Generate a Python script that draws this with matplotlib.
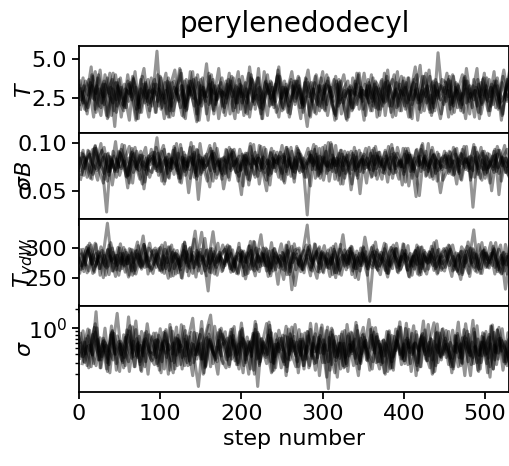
import numpy as np
import matplotlib
matplotlib.use("Agg")
import matplotlib.pyplot as plt

title = "perylenedodecyl"
labels = [r"$T$", r"$\sigma B$", r"$T_{vdW}$", r"$\sigma$"]
thin = 5  # values read every 5 steps; walker k starts at step k % 5

# T, in tenths
t_chains = [
    [26, 38, 15, 31, 42, 20, 34, 12, 29, 40, 23, 17, 36, 27, 11, 33, 44, 21,
     30, 16, 39, 25, 13, 35, 28, 43, 19, 32, 24, 10, 37, 26, 41, 18, 29, 35,
     14, 27, 38, 22, 33, 16, 45, 25, 31, 12, 36, 20, 28, 40, 17, 34, 23, 30,
     39, 19, 26, 13, 35, 29, 42, 21, 32, 15, 37, 24, 11, 30, 27, 41, 18, 33,
     25, 36, 14, 28, 43, 20, 31, 17, 38, 26, 12, 34, 22, 39, 29, 16, 35, 24,
     32, 13, 40, 27, 19, 36, 23, 30, 44, 15, 28, 37, 21, 33, 11, 29, 38, 25],
    [21, 33, 27, 40, 16, 29, 36, 13, 31, 24, 38, 19, 34, 26, 12, 37, 22, 30,
     28, 55, 18, 35, 25, 14, 32, 41, 20, 27, 37, 11, 30, 23, 39, 17, 33, 26,
     36, 15, 29, 42, 22, 31, 18, 27, 38, 12, 34, 25, 30, 45, 19, 28, 35, 21,
     33, 24, 7, 30, 39, 17, 27, 36, 22, 14, 31, 40, 25, 19, 34, 28, 11, 37,
     23, 32, 18, 41, 26, 13, 35, 29, 20, 38, 24, 31, 16, 27, 43, 22, 30, 15,
     35, 26, 39, 19, 28, 12, 33, 24, 37, 21, 30, 17, 36, 27, 14, 32, 41, 23],
    [31, 18, 26, 39, 23, 14, 34, 28, 41, 20, 32, 25, 11, 37, 29, 16, 35, 22,
     27, 40, 19, 30, 13, 36, 24, 33, 17, 42, 26, 21, 38, 15, 31, 28, 44, 20,
     34, 25, 12, 37, 29, 22, 40, 18, 32, 27, 14, 35, 23, 39, 30, 16, 26, 36,
     19, 31, 43, 24, 15, 33, 28, 38, 21, 12, 36, 26, 30, 18, 41, 25, 34, 22,
     38, 13, 29, 35, 20, 27, 42, 17, 32, 24, 37, 11, 30, 26, 39, 19, 54, 28,
     23, 36, 16, 31, 40, 22, 28, 13, 34, 27, 38, 20, 33, 25, 15, 37, 29, 35],
    [24, 36, 30, 13, 38, 22, 28, 41, 17, 33, 26, 19, 35, 29, 12, 39, 25, 31,
     37, 20, 27, 15, 34, 43, 23, 30, 18, 36, 28, 11, 32, 26, 40, 21, 29, 16,
     30, 39, 22, 34, 14, 27, 37, 25, 19, 42, 28, 32, 16, 24, 36, 20, 33, 27,
     12, 35, 26, 31, 21, 38, 17, 29, 23, 34, 15, 27, 32, 19, 25, 30, 14, 33,
     26, 18, 37, 23, 31, 40, 20, 28, 35, 13, 30, 24, 39, 22, 27, 17, 34, 29,
     41, 21, 32, 27, 16, 36, 25, 30, 12, 38, 23, 34, 19, 29, 43, 26, 31, 18],
    [29, 17, 35, 24, 40, 27, 14, 32, 7, 37, 21, 30, 26, 42, 19, 34, 23, 38,
     16, 31, 25, 36, 20, 28, 44, 13, 33, 27, 38, 22, 29, 11, 35, 24, 31, 19,
     37, 26, 33, 18, 30, 41, 23, 27, 15, 35, 29, 21, 39, 25, 32, 13, 28, 36,
     22, 38, 14, 31, 26, 19, 34, 29, 37, 20, 25, 12, 33, 28, 40, 23, 30, 17,
     34, 27, 20, 39, 16, 30, 25, 36, 22, 31, 45, 18, 28, 33, 14, 37, 26, 21,
     30, 15, 35, 24, 38, 28, 19, 32, 26, 41, 17, 29, 36, 22, 27, 34, 13, 31],
    [33, 22, 28, 45, 18, 31, 26, 38, 14, 35, 29, 20, 40, 24, 32, 16, 27, 37,
     20, 34, 29, 12, 38, 25, 31, 19, 36, 27, 42, 15, 33, 28, 21, 37, 24, 30,
     27, 41, 17, 32, 26, 35, 13, 30, 38, 22, 28, 34, 19, 43, 25, 31, 15, 36,
     29, 21, 37, 26, 16, 33, 24, 40, 28, 11, 35, 22, 31, 27, 36, 18, 30, 25,
     40, 19, 31, 23, 36, 28, 14, 34, 27, 38, 21, 32, 46, 17, 29, 35, 24, 12,
     26, 37, 22, 30, 17, 39, 28, 33, 20, 35, 25, 14, 31, 38, 23, 29, 42, 19],
    [36, 24, 19, 33, 28, 43, 21, 30, 37, 16, 27, 34, 23, 39, 18, 31, 26, 13,
     31, 27, 38, 22, 35, 17, 29, 33, 12, 36, 25, 40, 20, 28, 34, 15, 30, 38,
     22, 33, 28, 16, 39, 26, 31, 21, 44, 18, 29, 36, 24, 13, 32, 27, 37, 23,
     38, 16, 30, 35, 25, 20, 33, 14, 28, 39, 22, 31, 36, 17, 29, 26, 41, 24,
     17, 35, 28, 22, 32, 37, 19, 30, 26, 13, 34, 40, 23, 31, 18, 36, 27, 33,
     28, 39, 20, 34, 25, 31, 15, 37, 29, 22, 33, 26, 42, 18, 35, 24, 30, 16],
    [18, 30, 37, 25, 33, 19, 40, 27, 22, 35, 13, 31, 28, 38, 21, 26, 34, 17,
     34, 23, 29, 41, 17, 32, 26, 14, 37, 30, 20, 35, 27, 47, 22, 33, 12, 29,
     25, 36, 19, 31, 27, 15, 38, 33, 24, 29, 40, 21, 34, 26, 18, 31, 42, 25,
     31, 20, 35, 23, 40, 28, 18, 33, 26, 36, 24, 30, 13, 38, 21, 32, 27, 35,
     20, 29, 36, 14, 33, 25, 31, 39, 18, 27, 35, 22, 30, 41, 16, 33, 25, 37,
     35, 18, 28, 33, 21, 44, 26, 30, 16, 37, 24, 32, 28, 19, 39, 23, 34, 27],
]

# sigma B, in thousandths
b_chains = [
    [78, 92, 64, 83, 97, 70, 58, 88, 74, 101, 66, 81, 53, 90, 76, 62, 86, 72,
     69, 95, 80, 57, 88, 73, 99, 63, 84, 48, 79, 93, 67, 86, 75, 60, 94, 71,
     82, 61, 90, 74, 46, 87, 78, 98, 65, 83, 72, 56, 91, 77, 68, 95, 80, 63,
     89, 70, 79, 55, 93, 66, 85, 76, 100, 62, 81, 71, 87, 51, 78, 92, 69, 84,
     64, 96, 75, 83, 59, 88, 73, 80, 67, 94, 77, 44, 86, 72, 99, 65, 82, 76,
     91, 68, 81, 57, 89, 74, 85, 33, 78, 95, 63, 80, 72, 88, 60, 84, 76, 93],
    [71, 85, 77, 62, 94, 80, 68, 89, 56, 83, 75, 97, 66, 81, 73, 91, 59, 86,
     78, 105, 70, 84, 63, 92, 76, 58, 87, 72, 96, 65, 82, 74, 54, 89, 79, 68,
     93, 73, 81, 60, 88, 77, 99, 67, 84, 71, 50, 90, 78, 64, 86, 75, 95, 69,
     83, 76, 25, 87, 72, 94, 61, 80, 74, 97, 66, 85, 79, 57, 91, 70, 82, 76,
     65, 89, 78, 72, 96, 63, 84, 75, 88, 55, 81, 93, 70, 86, 77, 62, 90, 74,
     87, 70, 95, 79, 61, 84, 73, 98, 67, 82, 76, 58, 91, 74, 85, 69, 80, 88],
    [84, 73, 91, 67, 80, 99, 62, 86, 76, 70, 93, 78, 58, 88, 72, 83, 95, 64,
     77, 89, 60, 82, 74, 96, 68, 85, 79, 63, 90, 41, 84, 76, 94, 70, 81, 66,
     92, 71, 78, 86, 55, 89, 75, 64, 97, 73, 82, 68, 87, 79, 60, 93, 74, 85,
     69, 81, 94, 72, 88, 63, 79, 100, 70, 84, 57, 91, 76, 83, 66, 89, 73, 78,
     86, 62, 77, 92, 74, 68, 95, 80, 59, 87, 72, 83, 97, 65, 79, 88, 71, 76,
     74, 90, 67, 83, 78, 96, 61, 85, 73, 89, 69, 80, 93, 46, 84, 75, 87, 70],
    [67, 82, 88, 75, 61, 92, 79, 70, 86, 74, 98, 65, 80, 89, 72, 57, 84, 77,
     90, 66, 79, 85, 71, 94, 63, 82, 76, 100, 69, 87, 74, 60, 91, 78, 83, 52,
     75, 88, 69, 93, 80, 62, 86, 77, 71, 95, 67, 84, 79, 90, 58, 82, 73, 96,
     81, 64, 90, 76, 85, 70, 97, 60, 83, 78, 92, 68, 75, 87, 63, 80, 94, 72,
     94, 77, 62, 86, 73, 89, 81, 56, 91, 70, 84, 76, 99, 66, 82, 74, 88, 61,
     70, 85, 93, 68, 79, 83, 64, 95, 76, 72, 89, 50, 81, 92, 77, 67, 86, 78],
    [89, 76, 63, 94, 81, 72, 28, 85, 70, 91, 78, 64, 87, 95, 71, 80, 67, 93,
     73, 86, 97, 68, 82, 77, 59, 90, 75, 84, 66, 99, 72, 80, 88, 63, 78, 85,
     64, 92, 80, 71, 87, 56, 83, 76, 96, 69, 81, 74, 90, 62, 85, 79, 70, 94,
     86, 73, 82, 98, 65, 78, 91, 72, 84, 61, 88, 80, 68, 95, 75, 83, 58, 89,
     77, 90, 69, 81, 85, 74, 62, 94, 79, 87, 71, 45, 84, 76, 92, 68, 80, 86,
     82, 67, 88, 76, 96, 71, 84, 79, 63, 91, 74, 86, 70, 81, 97, 65, 78, 83],
    [74, 88, 81, 69, 96, 77, 85, 60, 83, 72, 90, 79, 66, 94, 75, 87, 52, 82,
     86, 71, 79, 93, 64, 84, 76, 98, 70, 81, 88, 62, 85, 74, 79, 91, 67, 83,
     68, 95, 76, 83, 72, 89, 61, 80, 87, 74, 93, 66, 82, 78, 97, 70, 84, 59,
     92, 78, 64, 87, 80, 73, 95, 68, 82, 76, 89, 57, 84, 91, 71, 79, 86, 74,
     80, 66, 90, 75, 84, 98, 69, 81, 74, 87, 63, 92, 77, 83, 70, 95, 76, 48,
     73, 86, 79, 94, 62, 83, 77, 71, 90, 80, 67, 88, 75, 96, 82, 69, 85, 77],
    [83, 66, 92, 78, 73, 87, 95, 70, 81, 64, 89, 76, 84, 58, 91, 79, 72, 86,
     90, 75, 82, 60, 88, 79, 71, 94, 66, 85, 77, 92, 69, 83, 97, 73, 80, 62,
     76, 87, 93, 70, 81, 67, 96, 78, 84, 72, 61, 89, 74, 86, 79, 95, 65, 82,
     71, 84, 78, 91, 63, 86, 80, 75, 98, 69, 83, 76, 90, 72, 85, 47, 88, 79,
     92, 73, 85, 68, 80, 94, 76, 82, 70, 89, 78, 65, 93, 81, 74, 87, 60, 84,
     78, 91, 66, 83, 88, 72, 79, 95, 74, 61, 86, 80, 69, 92, 76, 84, 71, 89],
    [62, 79, 85, 93, 71, 77, 88, 66, 91, 80, 73, 84, 96, 69, 78, 87, 75, 81,
     85, 70, 91, 76, 83, 67, 89, 80, 72, 95, 64, 82, 78, 88, 71, 99, 76, 84,
     79, 93, 72, 65, 86, 81, 74, 90, 57, 85, 78, 94, 70, 83, 88, 67, 91, 73,
     88, 74, 83, 79, 96, 68, 84, 71, 87, 76, 92, 63, 80, 89, 73, 82, 77, 95,
     71, 86, 77, 90, 67, 82, 89, 75, 94, 79, 70, 85, 74, 91, 64, 87, 80, 72,
     89, 75, 81, 70, 93, 79, 86, 64, 83, 91, 72, 78, 87, 68, 84, 93, 79, 74],
]

# T_vdW
v_chains = [
    [276, 298, 259, 287, 308, 266, 291, 341, 281, 253, 300, 272, 285, 262, 295, 270, 306, 257,
     289, 268, 301, 277, 250, 293, 283, 264, 309, 273, 258, 296, 280, 316, 267, 290, 255, 284,
     271, 303, 262, 286, 296, 249, 279, 311, 265, 292, 276, 258, 299, 283, 270, 305, 261, 288,
     297, 264, 282, 254, 307, 275, 290, 268, 300, 259, 285, 322, 272, 294, 251, 280, 302, 266,
     284, 310, 270, 292, 258, 286, 299, 263, 277, 304, 255, 289, 274, 296, 265, 283, 312, 269,
     262, 291, 305, 275, 248, 288, 270, 297, 260, 284, 301, 267, 293, 276, 257, 306, 281, 273],
    [283, 261, 296, 274, 306, 255, 288, 270, 300, 264, 291, 279, 252, 297, 285, 268, 303, 276,
     258, 290, 272, 309, 263, 284, 296, 251, 281, 299, 267, 287, 326, 273, 260, 294, 278, 289,
     302, 266, 282, 257, 293, 276, 311, 262, 286, 271, 298, 254, 289, 280, 265, 304, 272, 238,
     279, 297, 338, 268, 285, 302, 259, 291, 274, 307, 263, 282, 295, 256, 288, 271, 300, 265,
     293, 270, 256, 299, 281, 266, 308, 277, 290, 253, 286, 273, 301, 262, 294, 279, 257, 289,
     268, 304, 282, 261, 295, 275, 287, 330, 270, 258, 292, 281, 299, 264, 284, 272, 305, 277],
    [265, 284, 299, 258, 277, 292, 270, 305, 262, 288, 274, 297, 255, 283, 310, 268, 291, 279,
     296, 273, 260, 289, 302, 266, 281, 250, 294, 279, 315, 262, 286, 271, 299, 257, 283, 305,
     278, 291, 269, 308, 254, 285, 296, 272, 261, 300, 283, 267, 292, 276, 248, 289, 303, 264,
     287, 259, 301, 275, 290, 266, 283, 297, 256, 279, 306, 270, 288, 262, 295, 274, 318, 281,
     271, 297, 282, 263, 293, 305, 268, 286, 274, 252, 290, 300, 266, 284, 277, 309, 259, 292,
     300, 276, 264, 288, 259, 295, 279, 268, 306, 283, 270, 291, 257, 298, 273, 286, 262, 280],
    [290, 272, 308, 263, 281, 296, 255, 287, 275, 301, 266, 293, 279, 258, 304, 271, 286, 262,
     277, 299, 265, 284, 253, 291, 274, 306, 261, 288, 328, 270, 283, 297, 259, 279, 293, 268,
     305, 264, 286, 278, 295, 258, 282, 300, 269, 289, 253, 296, 275, 287, 263, 310, 276, 290,
     261, 283, 297, 272, 250, 292, 280, 266, 303, 277, 255, 288, 299, 268, 284, 271, 294, 212,
     288, 263, 279, 306, 270, 285, 259, 296, 278, 291, 265, 302, 273, 257, 289, 281, 298, 267,
     279, 295, 270, 257, 290, 303, 275, 262, 287, 296, 268, 282, 309, 260, 293, 276, 253, 288],
    [271, 301, 286, 260, 294, 278, 267, 309, 283, 255, 291, 274, 298, 263, 285, 320, 269, 293,
     300, 263, 287, 276, 305, 257, 282, 296, 270, 289, 252, 293, 279, 229, 299, 268, 286, 274,
     284, 297, 258, 290, 277, 303, 265, 286, 322, 271, 295, 262, 281, 307, 274, 256, 291, 280,
     266, 289, 304, 276, 261, 294, 283, 253, 298, 273, 287, 264, 300, 279, 248, 292, 270, 285,
     295, 270, 283, 259, 301, 288, 272, 307, 264, 281, 296, 255, 290, 275, 303, 266, 284, 299,
     278, 253, 292, 285, 269, 310, 276, 290, 258, 297, 280, 271, 289, 305, 262, 286, 273, 294],
    [282, 266, 293, 305, 270, 286, 251, 297, 279, 288, 263, 301, 274, 292, 257, 283, 306, 271,
     265, 296, 280, 258, 302, 277, 291, 269, 310, 254, 287, 273, 298, 262, 284, 327, 276, 290,
     298, 274, 261, 292, 283, 256, 304, 270, 289, 278, 300, 263, 285, 240, 293, 279, 268, 307,
     273, 290, 305, 264, 287, 299, 261, 282, 272, 294, 257, 288, 276, 303, 266, 291, 281, 255,
     301, 268, 289, 277, 252, 296, 284, 271, 306, 263, 280, 295, 260, 287, 275, 298, 269, 284,
     287, 305, 262, 280, 294, 272, 258, 299, 283, 266, 291, 276, 303, 261, 288, 232, 279, 296],
    [259, 287, 304, 273, 291, 266, 283, 298, 262, 277, 307, 270, 288, 255, 296, 281, 268, 300,
     291, 276, 263, 298, 283, 254, 289, 271, 303, 267, 293, 280, 258, 296, 274, 286, 308, 261,
     286, 302, 272, 259, 294, 281, 265, 310, 277, 290, 262, 284, 299, 268, 292, 256, 280, 297,
     300, 264, 288, 279, 306, 260, 292, 274, 284, 251, 298, 287, 268, 302, 278, 262, 289, 275,
     267, 293, 281, 308, 258, 277, 299, 265, 290, 282, 270, 305, 256, 293, 284, 271, 296, 263,
     295, 271, 286, 263, 302, 289, 253, 292, 276, 309, 268, 283, 297, 272, 258, 290, 280, 301],
    [297, 279, 262, 289, 274, 302, 286, 256, 293, 271, 284, 260, 299, 276, 290, 265, 282, 308,
     273, 290, 305, 266, 280, 297, 259, 287, 276, 301, 268, 292, 281, 254, 295, 272, 289, 263,
     290, 260, 283, 301, 268, 292, 277, 254, 298, 285, 270, 309, 264, 288, 279, 296, 231, 283,
     270, 296, 276, 262, 294, 283, 304, 268, 289, 259, 281, 297, 274, 291, 266, 300, 278, 287,
     304, 265, 293, 280, 272, 299, 261, 285, 296, 270, 287, 257, 302, 278, 293, 263, 286, 274,
     283, 298, 271, 291, 256, 285, 300, 277, 265, 294, 281, 309, 268, 279, 292, 257, 297, 270],
]

# sigma, in hundredths
s_chains = [
    [44, 92, 27, 63, 118, 33, 71, 22, 86, 40, 58, 25, 79, 48, 130, 31, 62, 20,
     75, 36, 99, 24, 57, 41, 105, 28, 68, 45, 19, 84, 34, 61, 112, 29, 52, 38,
     89, 26, 66, 43, 121, 30, 55, 80, 13, 70, 39, 95, 23, 59, 47, 108, 33, 76,
     21, 64, 42, 97, 29, 73, 50, 18, 88, 37, 60, 27, 115, 44, 69, 24, 82, 35,
     56, 103, 31, 67, 22, 78, 46, 126, 32, 61, 40, 90, 26, 72, 49, 20, 85, 38,
     65, 28, 94, 43, 58, 19, 81, 36, 110, 30, 53, 74, 24, 96, 45, 63, 27, 87],
    [52, 31, 77, 40, 180, 25, 66, 45, 93, 29, 58, 36, 150, 42, 70, 23, 85, 48,
     34, 68, 21, 90, 47, 60, 27, 114, 38, 75, 30, 55, 98, 26, 64, 43, 20, 82,
     61, 39, 107, 28, 72, 50, 24, 86, 35, 63, 119, 31, 57, 44, 79, 22, 69, 41,
     96, 27, 54, 38, 83, 19, 67, 46, 101, 32, 59, 25, 77, 41, 124, 30, 62, 37,
     24, 73, 49, 21, 88, 35, 57, 104, 29, 66, 42, 80, 26, 95, 38, 53, 117, 33,
     71, 43, 26, 84, 30, 62, 39, 99, 23, 76, 48, 18, 87, 34, 65, 45, 28, 92],
    [38, 62, 25, 81, 46, 33, 101, 28, 57, 170, 40, 73, 22, 64, 36, 90, 31, 53,
     85, 27, 60, 42, 115, 30, 69, 24, 77, 48, 35, 13, 56, 92, 160, 39, 66, 29,
     50, 97, 32, 58, 21, 74, 44, 128, 27, 63, 40, 86, 25, 71, 47, 34, 105, 38,
     68, 24, 89, 41, 30, 78, 52, 12, 95, 36, 60, 26, 83, 45, 111, 29, 55, 40,
     31, 76, 48, 20, 92, 37, 64, 28, 100, 43, 57, 23, 80, 34, 67, 122, 30, 59,
     93, 35, 54, 26, 72, 46, 19, 87, 39, 62, 29, 109, 44, 70, 23, 58, 83, 33],
    [60, 41, 94, 29, 68, 37, 55, 21, 84, 47, 32, 72, 110, 26, 61, 43, 90, 35,
     28, 79, 52, 36, 103, 24, 65, 45, 30, 87, 40, 58, 20, 74, 49, 33, 96, 57,
     71, 34, 46, 89, 27, 63, 38, 116, 31, 54, 79, 22, 67, 42, 28, 98, 45, 62,
     39, 85, 25, 59, 44, 102, 30, 73, 48, 18, 82, 36, 57, 27, 93, 41, 66, 23,
     88, 31, 64, 43, 24, 76, 51, 35, 120, 29, 60, 46, 84, 32, 70, 22, 56, 99,
     47, 26, 78, 36, 61, 91, 28, 54, 39, 73, 21, 107, 42, 65, 31, 86, 50, 34],
    [29, 70, 45, 104, 33, 57, 24, 80, 41, 63, 30, 95, 49, 26, 76, 38, 118, 43,
     66, 23, 87, 50, 32, 72, 44, 108, 27, 59, 39, 81, 21, 67, 46, 35, 92, 55,
     37, 99, 28, 62, 48, 20, 84, 34, 69, 42, 125, 30, 58, 25, 77, 40, 64, 31,
     82, 45, 27, 74, 36, 113, 51, 23, 65, 38, 89, 29, 56, 43, 19, 79, 33, 97,
     42, 64, 30, 90, 25, 53, 106, 37, 71, 22, 60, 45, 130, 32, 68, 27, 85, 40,
     58, 21, 76, 44, 96, 31, 62, 47, 24, 83, 35, 113, 28, 71, 49, 36, 92, 26],
    [73, 37, 53, 26, 88, 45, 64, 30, 109, 41, 22, 80, 51, 35, 96, 28, 67, 44,
     32, 85, 47, 65, 20, 91, 39, 56, 27, 74, 143, 34, 60, 25, 82, 43, 31, 101,
     54, 28, 78, 40, 95, 33, 61, 23, 87, 46, 36, 112, 29, 58, 71, 19, 83, 48,
     26, 69, 34, 120, 44, 57, 30, 93, 38, 21, 76, 50, 27, 88, 35, 63, 104, 32,
     79, 41, 24, 66, 52, 31, 98, 40, 58, 28, 84, 19, 69, 45, 115, 33, 56, 37,
     48, 90, 35, 59, 27, 75, 43, 133, 30, 62, 39, 81, 24, 94, 52, 29, 71, 41],
    [35, 58, 98, 42, 27, 72, 50, 34, 89, 23, 64, 47, 31, 106, 38, 55, 26, 80,
     62, 29, 45, 84, 36, 21, 70, 53, 93, 32, 57, 40, 128, 27, 68, 44, 86, 33,
     25, 75, 51, 30, 100, 39, 63, 20, 82, 47, 29, 71, 37, 94, 52, 26, 60, 115,
     46, 33, 90, 55, 23, 68, 41, 105, 28, 76, 35, 59, 22, 85, 43, 32, 73, 50,
     103, 30, 57, 38, 80, 25, 66, 45, 32, 97, 49, 27, 74, 40, 61, 21, 88, 36,
     57, 41, 24, 78, 35, 118, 46, 29, 69, 38, 90, 26, 55, 42, 99, 31, 64, 23],
    [84, 30, 55, 39, 102, 25, 61, 46, 33, 77, 50, 27, 92, 37, 58, 22, 70, 44,
     40, 66, 31, 96, 23, 54, 79, 36, 62, 28, 87, 45, 34, 71, 26, 108, 48, 59,
     33, 88, 43, 24, 69, 52, 37, 97, 29, 60, 44, 21, 83, 56, 31, 74, 40, 26,
     63, 27, 77, 35, 117, 42, 57, 31, 80, 46, 24, 93, 38, 62, 29, 71, 52, 137,
     47, 82, 28, 59, 40, 23, 90, 34, 66, 51, 110, 30, 76, 39, 25, 64, 43, 97,
     36, 61, 45, 125, 29, 70, 38, 52, 22, 86, 41, 58, 33, 104, 47, 27, 79, 55],
]

chains = [
    [np.array(w) / 10 for w in t_chains],
    [np.array(w) / 1000 for w in b_chains],
    [np.array(w, dtype=float) for w in v_chains],
    [np.array(w) / 100 for w in s_chains],
]
ylims = [(0.32, 5.83), (0.0208, 0.1104), (205, 348), (0.107, 2.24)]
yticks = [[2.5, 5.0], [0.05, 0.10], [250, 300], None]

W, H = 509, 466
fig = plt.figure(figsize=(W / 100, H / 100), dpi=100)
left, top, bottom = 79 / W, 1 - 46 / H, 1 - 392 / H
width = 430.5 / W
h = (top - bottom) / 4

axes = []
for i in range(4):
    ax = fig.add_axes([left, top - (i + 1) * h, width, h],
                      sharex=axes[0] if axes else None)
    axes.append(ax)
    for k, w in enumerate(chains[i]):
        steps = k % thin + thin * np.arange(len(w))
        ax.plot(steps, w, "k", alpha=0.42, lw=2.2)
    if i == 3:
        ax.set_yscale("log")
    ax.set_ylim(*ylims[i])
    if yticks[i] is not None:
        ax.set_yticks(yticks[i])
    ax.set_xlim(0, 530)
    for s in ax.spines.values():
        s.set_linewidth(1.3)
    ax.tick_params(labelsize=16, width=1.3, length=5)
    ax.tick_params(which="minor", width=1.0, length=3)
    ax.set_ylabel(labels[i], fontsize=16)
    ax.yaxis.set_label_coords(35 / W, top - (i + 0.5) * h, transform=fig.transFigure)
    if i < 3:
        ax.tick_params(labelbottom=False)

axes[0].set_title(title, fontsize=20, pad=10)
axes[3].set_xlabel("step number", fontsize=16)
axes[3].set_xticks([0, 100, 200, 300, 400, 500])

fig.savefig("out.png", dpi=100)
